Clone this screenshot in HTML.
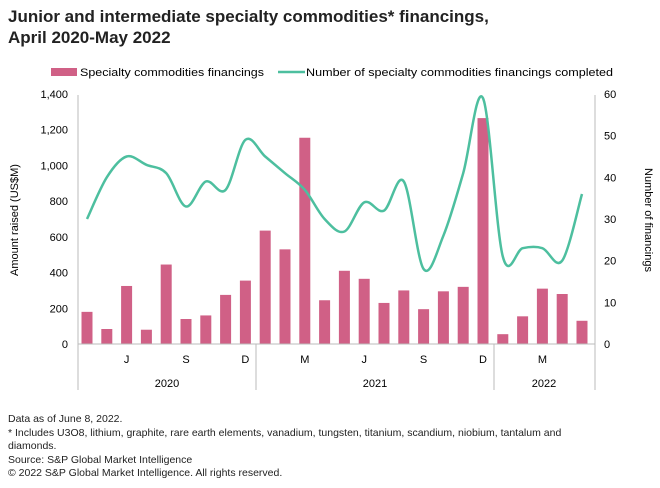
<!DOCTYPE html>
<html><head><meta charset="utf-8"><style>
body{margin:0;background:#fff;font-family:"Liberation Sans",sans-serif;color:#222}
#w{position:relative;width:660px;height:488px;overflow:hidden}
.t{position:absolute;left:8px;top:6px;font-size:17px;font-weight:bold;line-height:21px;color:#222}
.f{position:absolute;left:8px;top:413px;font-size:10.5px;line-height:13.5px;color:#222}
</style></head><body><div id="w">
<div class="t">Junior and intermediate specialty commodities* financings,<br>April 2020-May 2022</div>
<svg id="s" width="660" height="488" style="position:absolute;left:0;top:0"></svg>
<div class="f">Data as of June 8, 2022.<br>* Includes U3O8, lithium, graphite, rare earth elements, vanadium, tungsten, titanium, scandium, niobium, tantalum and<br>diamonds.<br>Source: S&amp;P Global Market Intelligence<br>© 2022 S&amp;P Global Market Intelligence. All rights reserved.</div>
</div>
<script>
var bars=[180,84,325,80,445,140,160,275,355,635,530,1155,245,410,365,230,300,195,295,320,1265,55,155,310,280,130];
var cnt=[30,40,45,43,41,33,39,37,49,45,41,37,30,27,34,32,39,18,26,41,59,21,23,23,20,36];
var x0=87,dx=19.8,y0=344,h=250;
var s='';
s+='<rect x="51" y="68" width="26" height="8" fill="#d06086"/><text x="80" y="76" font-size="11" textLength="184" lengthAdjust="spacingAndGlyphs">Specialty commodities financings</text>';
s+='<line x1="278" y1="72" x2="305" y2="72" stroke="#4dbf9f" stroke-width="2.5"/><text x="306" y="76" font-size="11" textLength="307" lengthAdjust="spacingAndGlyphs">Number of specialty commodities financings completed</text>';
for(var i=0;i<=7;i++){var y=y0-i*200*h/1400;s+='<text x="68" y="'+(y+4)+'" font-size="11" text-anchor="end">'+(i*200).toLocaleString('en-US')+'</text>';}
for(var i=0;i<=6;i++){var y=y0-i*10*h/60;s+='<text x="604" y="'+(y+4)+'" font-size="11">'+(i*10)+'</text>';}
s+='<text transform="translate(18,220) rotate(-90)" font-size="11" text-anchor="middle">Amount raised (US$M)</text>';
s+='<text transform="translate(645,220) rotate(90)" font-size="11" text-anchor="middle">Number of financings</text>';
for(var i=0;i<bars.length;i++){var bh=bars[i]*h/1400;s+='<rect x="'+(x0+i*dx-5.5)+'" y="'+(y0-bh)+'" width="11" height="'+bh+'" fill="#d06086"/>';}
s+='<line x1="78" y1="95" x2="78" y2="390" stroke="#bbb"/><line x1="595" y1="95" x2="595" y2="390" stroke="#bbb"/>';
s+='<line x1="78" y1="344" x2="595" y2="344" stroke="#bbb"/>';
s+='<line x1="256" y1="344" x2="256" y2="390" stroke="#bbb"/><line x1="494" y1="344" x2="494" y2="390" stroke="#bbb"/>';
[[2,'J'],[5,'S'],[8,'D'],[11,'M'],[14,'J'],[17,'S'],[20,'D'],[23,'M']].forEach(function(m){s+='<text x="'+(x0+m[0]*dx)+'" y="363" font-size="11" text-anchor="middle">'+m[1]+'</text>';});
s+='<text x="167" y="387" font-size="11" text-anchor="middle">2020</text><text x="375" y="387" font-size="11" text-anchor="middle">2021</text><text x="544" y="387" font-size="11" text-anchor="middle">2022</text>';
var P=cnt.map(function(c,i){return [x0+i*dx,y0-c*h/60];});
var d='M'+P[0][0]+','+P[0][1];
for(var i=0;i<P.length-1;i++){var a=P[i-1]||P[i],b=P[i],c=P[i+1],e=P[i+2]||c;
d+=' C'+(b[0]+(c[0]-a[0])/6)+','+(b[1]+(c[1]-a[1])/6)+' '+(c[0]-(e[0]-b[0])/6)+','+(c[1]-(e[1]-b[1])/6)+' '+c[0]+','+c[1];}
s+='<path d="'+d+'" fill="none" stroke="#4dbf9f" stroke-width="2.5"/>';
document.getElementById('s').innerHTML=s;
</script>
</body></html>
